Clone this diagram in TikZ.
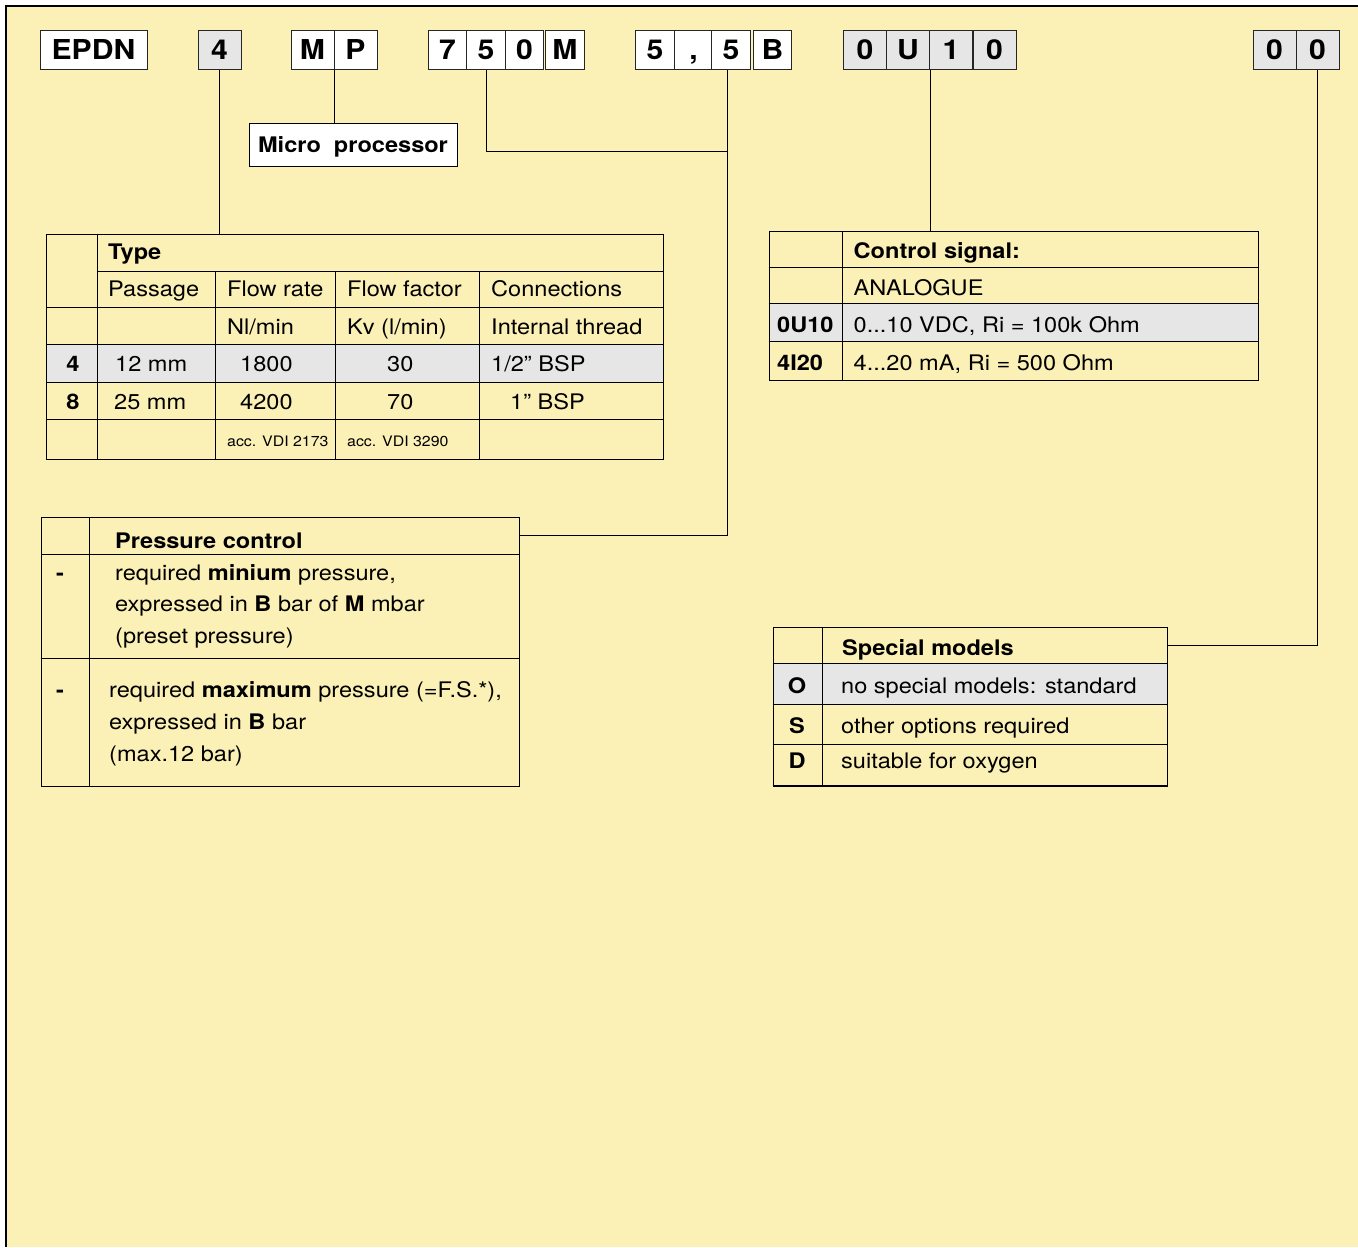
\documentclass[tikz,border=0pt]{standalone}
\usepackage{fontspec}
\setmainfont[FakeStretch=1.1]{TeX Gyre Heros}
\usepackage{xcolor}
\definecolor{sheet}{RGB}{251,240,181}
\definecolor{rowgray}{RGB}{230,230,230}

\tikzset{
  codebox/.style={draw=black!85, line width=0.8pt, fill=white, minimum height=39bp,
    inner sep=0pt, text height=19.4bp, text depth=0bp, font=\fontsize{27.5}{30}\selectfont\bfseries},
  nar/.style={codebox, minimum width=38.5bp},
  wid/.style={codebox, minimum width=43bp},
  shade/.style={fill=rowgray},
  frame/.style={draw, line width=0.8pt, anchor=north west, inner sep=0pt},
  cell/.style={anchor=base west, inner sep=0pt, font=\fontsize{21.5}{25}\selectfont},
  head/.style={cell, font=\fontsize{21.5}{25}\selectfont\bfseries},
  key/.style={anchor=base, inner sep=0pt, font=\fontsize{21.5}{25}\selectfont\bfseries},
  small/.style={cell, font=\fontsize{14.5}{16}\selectfont},
  link/.style={line width=0.8pt}
}

\begin{document}
\begin{tikzpicture}[x=1bp, y=-1bp]
    \useasboundingbox (0,0) rectangle (1358,1247);
    \fill[sheet] (6,6) rectangle (1358,1247);
    \draw[line width=1.2bp] (1358,6) -- (6,6) -- (6,1247);

    % order code
    \node[codebox, minimum width=107bp] (epdn) at (93.5,50) {EPDN};
    \node[wid, shade] (c4) at (219.5,50) {4};
    \node[wid] (cM) at (312.5,50) {M};
    \node[wid] (cP) at (355.5,50) {P};
    \node[nar] (c7) at (447.5,50) {7};
    \node[nar] (c5) at (486,50) {5};
    \node[nar] (c0) at (524.5,50) {0};
    \node[nar] (cMb) at (565,50) {M};
    \node[nar] (d5) at (655,50) {5};
    \node[nar] (dk) at (693.5,50) {,};
    \node[nar] (d5b) at (731,50) {5};
    \node[nar] (dB) at (772.5,50) {B};
    \node[wid, shade] (s0) at (865,50) {0};
    \node[wid, shade] (sU) at (908,50) {U};
    \node[wid, shade] (s1) at (951,50) {1};
    \node[wid, shade] (s0b) at (994.5,50) {0};
    \node[wid, shade] (m0) at (1274.5,50) {0};
    \node[wid, shade] (m0b) at (1317.5,50) {0};

    \node[draw, line width=0.8pt, fill=white, inner sep=0pt, minimum width=208bp, minimum height=43bp,
      text height=15bp, text depth=0bp, font=\fontsize{21.5}{25}\selectfont\bfseries] (micro) at (353,144.5) {Micro\ \ processor};

    % type table
    \fill[rowgray] (46,344) rectangle (663,382);
    \node[frame, minimum width=617bp, minimum height=225bp] (typetab) at (46,233.5) {};
    \draw[link] (97,271.5) -- (663,271.5);
    \draw[link] (46,307) -- (663,307) (46,344) -- (663,344)
                (46,382) -- (663,382) (46,419.5) -- (663,419.5);
    \draw[link] (97,233.5) -- (97,458.5);
    \draw[link] (215,271.5) -- (215,458.5) (335.5,271.5) -- (335.5,458.5) (479,271.5) -- (479,458.5);
    \node[head] (ttl) at (108,259) {Type};
    \node[cell] (t1) at (108,296.5) {Passage};
    \node[cell] (t2) at (227,296.5) {Flow rate};
    \node[cell] (t3) at (347,296.5) {Flow factor};
    \node[cell] (t4) at (491,296.5) {Connections};
    \node[cell] (u2) at (227,334) {Nl/min};
    \node[cell] (u3) at (347,334) {Kv (l/min)};
    \node[cell] (u4) at (491,334) {Internal thread};
    \node[key] (k4) at (73,371.5) {4};
    \node[cell] (a1) at (115,371.5) {12 mm};
    \node[cell] (a2) at (240,371.5) {1800};
    \node[cell] (a3) at (387,371.5) {30};
    \node[cell] (a4) at (491,371.5) {1/2'' BSP};
    \node[key] (k8) at (73,409) {8};
    \node[cell] (b1) at (114,409) {25 mm};
    \node[cell] (b2) at (240,409) {4200};
    \node[cell] (b3) at (387,409) {70};
    \node[cell] (b4) at (510,409) {1'' BSP};
    \node[small] (n2) at (227,446) {acc. VDI 2173};
    \node[small] (n3) at (347,446) {acc. VDI 3290};

    % control signal table
    \fill[rowgray] (768.5,303) rectangle (1258,341.5);
    \node[frame, minimum width=489.5bp, minimum height=149bp] (ctab) at (768.5,231) {};
    \draw[link] (768.5,267) -- (1258,267) (768.5,303) -- (1258,303) (768.5,341.5) -- (1258,341.5);
    \draw[link] (842,231) -- (842,380);
    \node[head] (cttl) at (853.5,258) {Control signal:};
    \node[cell] (c1) at (853.5,295) {ANALOGUE};
    \node[head] (cu) at (777,332) {0U10};
    \node[cell] (c2) at (853.5,332) {0...10 VDC, Ri = 100k Ohm};
    \node[head] (ci) at (777,370) {4I20};
    \node[cell] (c3) at (853.5,370) {4...20 mA, Ri = 500 Ohm};

    % pressure control table
    \node[frame, minimum width=478.5bp, minimum height=268.5bp] (prtab) at (40.5,517) {};
    \node[frame, minimum width=478.5bp, minimum height=36.5bp] (prhead) at (40.5,517) {};
    \draw[link] (40.5,658) -- (519,658);
    \draw[link] (89,517) -- (89,785.5);
    \node[head] (pttl) at (115,548) {Pressure control};
    \node[key] (p1) at (60,580) {-};
    \node[cell] (p1a) at (115,580) {required \textbf{minium} pressure,};
    \node[cell] (p1b) at (115,611.5) {expressed in \textbf{B} bar of \textbf{M} mbar};
    \node[cell] (p1c) at (115,643) {(preset pressure)};
    \node[key] (p2) at (60,697) {-};
    \node[cell] (p2a) at (109,697) {required \textbf{maximum} pressure (=F.S.*),};
    \node[cell] (p2b) at (109,729) {expressed in \textbf{B} bar};
    \node[cell] (p2c) at (109,761) {(max.12 bar)};

    % special models table
    \fill[rowgray] (772.5,663) rectangle (1167,704.5);
    \node[frame, minimum width=394.5bp, minimum height=158bp] (smtab) at (772.5,627) {};
    \node[frame, minimum width=394.5bp, minimum height=36bp] (smhead) at (772.5,627) {};
    \draw[link] (772.5,704.5) -- (1167,704.5) (772.5,744.5) -- (1167,744.5);
    \draw[link] (822,627) -- (822,785);
    \draw[line width=1.6bp] (smtab.south west) -- (smtab.south east);
    \node[head] (sttl) at (842,655) {Special models};
    \node[key] (so) at (797,693.5) {O};
    \node[cell] (so1) at (841,693.5) {no special models: standard};
    \node[key] (ss) at (797,733) {S};
    \node[cell] (ss1) at (841,733) {other options required};
    \node[key] (sd) at (797,768) {D};
    \node[cell] (sd1) at (841,768) {suitable for oxygen};

    % connectors
    \coordinate (tap) at ([xshift=-4bp]d5b.south);
    \coordinate (join) at (tap |- 0,151);
    \draw[link] (c4.south) -- (c4.south |- typetab.north);
    \draw[link] (cM.south east) -- (cM.south east |- micro.north);
    \draw[link] (c5.south) |- (join);
    \draw[link] (tap) |- (prhead.east);
    \draw[link] (sU.south east) -- (sU.south east |- ctab.north);
    \draw[link] (m0b.south) |- (smhead.east);
\end{tikzpicture}
\end{document}
